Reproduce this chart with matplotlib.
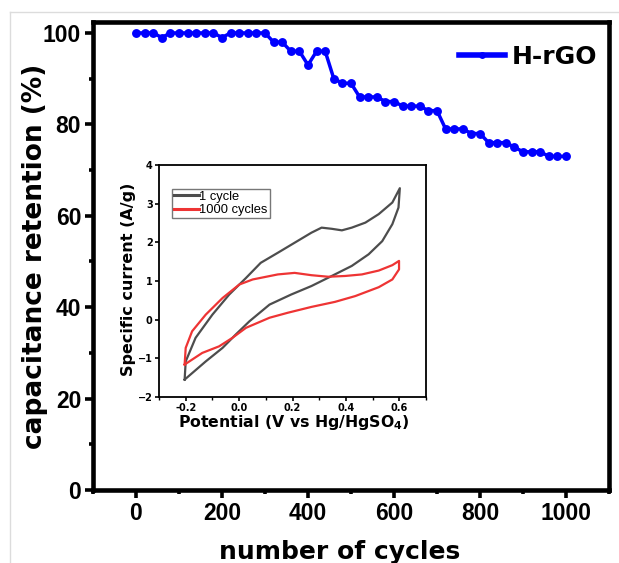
import matplotlib
matplotlib.use("Agg")
import matplotlib.pyplot as plt
from matplotlib.ticker import MultipleLocator
from matplotlib.lines import Line2D

# ---------------- data ----------------
cycles = [0, 20, 40, 60, 80, 100, 120, 140, 160, 180, 200, 220, 240, 260, 280, 300,
          320, 340, 360, 380, 400, 420, 440, 460, 480, 500, 520, 540, 560, 580, 600,
          620, 640, 660, 680, 700, 720, 740, 760, 780, 800, 820, 840, 860, 880, 900,
          920, 940, 960, 980, 1000]
retention = [100, 100, 100, 99, 100, 100, 100, 100, 100, 100, 99, 100, 100, 100, 100, 100,
             98, 98, 96, 96, 93, 96, 96, 90, 89, 89, 86, 86, 86, 85, 85,
             84, 84, 84, 83, 83, 79, 79, 79, 78, 78, 76, 76, 76, 75, 74,
             74, 74, 73, 73, 73]
series_label = "H-rGO"

cv1_potential = [-0.204, -0.200, -0.163, -0.100, -0.037, 0.026, 0.081, 0.145, 0.208, 0.271,
                 0.309, 0.347, 0.385, 0.422, 0.473, 0.523, 0.574, 0.602,
                 0.597, 0.574, 0.536, 0.485, 0.422, 0.347, 0.271, 0.195, 0.114, 0.039,
                 -0.012, -0.062, -0.125, -0.204]
cv1_current = [-1.55, -1.08, -0.47, 0.13, 0.65, 1.08, 1.47, 1.73, 1.99, 2.25,
               2.38, 2.35, 2.31, 2.38, 2.51, 2.73, 3.03, 3.40,
               2.90, 2.47, 2.03, 1.69, 1.39, 1.13, 0.87, 0.65, 0.39, -0.04,
               -0.38, -0.73, -1.08, -1.55]
cv1000_potential = [-0.204, -0.200, -0.176, -0.125, -0.062, 0.001, 0.051, 0.145, 0.208, 0.271,
                    0.334, 0.397, 0.460, 0.523, 0.574, 0.599,
                    0.599, 0.574, 0.523, 0.435, 0.359, 0.271, 0.183, 0.114, 0.026,
                    -0.025, -0.075, -0.138, -0.204]
cv1000_current = [-1.16, -0.73, -0.30, 0.13, 0.56, 0.91, 1.04, 1.17, 1.21, 1.15,
                  1.11, 1.13, 1.17, 1.27, 1.41, 1.52,
                  1.30, 1.04, 0.84, 0.61, 0.46, 0.33, 0.18, 0.05, -0.21,
                  -0.47, -0.69, -0.86, -1.16]
cv_labels = ["1 cycle", "1000 cycles"]

# ---------------- figure ----------------
W, H = 619, 563
fig = plt.figure(figsize=(W / 100, H / 100), dpi=100)
fig.patch.set_facecolor("white")

# faint frame of the original screenshot
fig.add_artist(Line2D([10 / W, 10 / W], [0, 1 - 12 / H], transform=fig.transFigure,
                      color="#dcdcdc", lw=1))
fig.add_artist(Line2D([10 / W, 1], [1 - 12 / H, 1 - 12 / H], transform=fig.transFigure,
                      color="#dcdcdc", lw=1))

ax_w, ax_h = 609 - 93, 490 - 22
ax = fig.add_axes([93 / W, 1 - 490 / H, ax_w / W, ax_h / H])
ax.plot(cycles, retention, color="#0000ff", lw=2.5, marker="o", ms=6.4,
        markeredgewidth=0, label=series_label)
ax.set_xlim(-100, 1100)
ax.set_ylim(0, 102.4)
ax.xaxis.set_major_locator(MultipleLocator(200))
ax.xaxis.set_minor_locator(MultipleLocator(100))
ax.yaxis.set_major_locator(MultipleLocator(20))
ax.yaxis.set_minor_locator(MultipleLocator(10))
for s in ax.spines.values():
    s.set_linewidth(3.3)
ax.tick_params(which="major", direction="out", length=5.5, width=2.6, pad=3)
ax.tick_params(which="minor", direction="out", length=3.0, width=2.6)
tick_font = dict(family="Liberation Sans", weight="bold", size=16.5)
for lab in ax.get_xticklabels() + ax.get_yticklabels():
    lab.set_fontproperties(matplotlib.font_manager.FontProperties(**tick_font))
ax.set_xlabel("number of cycles", fontsize=18, fontweight="bold",
              family="DejaVu Sans")
ax.xaxis.set_label_coords((340 - 93) / ax_w, (490 - 540) / ax_h)
ax.set_ylabel("capacitance retention (%)", fontsize=19, fontweight="bold",
              family="DejaVu Sans")
ax.yaxis.set_label_coords((48 - 93) / ax_w, (490 - 256) / ax_h)

leg = ax.legend(loc="center right", bbox_to_anchor=(597 / W, 1 - 57 / H),
                bbox_transform=fig.transFigure, frameon=False, borderpad=0,
                borderaxespad=0, handlelength=1.85, handletextpad=0.25,
                prop=dict(family="DejaVu Sans", weight="bold", size=18))
for h in leg.legend_handles:
    h.set_linewidth(4)
    h.set_markersize(5)

# ---------------- inset ----------------
in_w, in_h = 426 - 159, 397 - 165
ins = fig.add_axes([159 / W, 1 - 397 / H, in_w / W, in_h / H])
ins.plot(cv1_potential, cv1_current, color="#4d4d4d", lw=1.6, label=cv_labels[0],
         solid_joinstyle="round")
ins.plot(cv1000_potential, cv1000_current, color="#ee3434", lw=1.6, label=cv_labels[1],
         solid_joinstyle="round")
ins.set_xlim(-0.3, 0.7)
ins.set_ylim(-2, 4)
ins.xaxis.set_major_locator(MultipleLocator(0.2))
ins.xaxis.set_minor_locator(MultipleLocator(0.1))
ins.yaxis.set_major_locator(MultipleLocator(1))
for s in ins.spines.values():
    s.set_linewidth(1.3)
ins.tick_params(which="major", direction="out", length=3, width=1.2, pad=1.5)
ins.tick_params(which="minor", direction="out", length=2, width=1.0)
ins.set_xticks([-0.2, 0.0, 0.2, 0.4, 0.6])
ins.set_xticklabels(["-0.2", "0.0", "0.2", "0.4", "0.6"])
ins_tick_font = matplotlib.font_manager.FontProperties(family="DejaVu Sans",
                                                       weight="bold", size=7)
for lab in ins.get_xticklabels() + ins.get_yticklabels():
    lab.set_fontproperties(ins_tick_font)
ins.set_xlabel("Potential (V vs Hg/HgSO$_\\mathbf{4}$)", fontsize=11.3,
               fontweight="bold", family="DejaVu Sans")
ins.xaxis.set_label_coords((294 - 159) / in_w, (397 - 413) / in_h)
ins.set_ylabel("Specific current (A/g)", fontsize=11.5, fontweight="bold",
               family="DejaVu Sans")
ins.yaxis.set_label_coords((136 - 159) / in_w, (397 - 279) / in_h)
il = ins.legend(loc="upper left", bbox_to_anchor=(0.049, 0.897), borderaxespad=0,
                borderpad=0.15, handlelength=1.9, handletextpad=0.05,
                labelspacing=0.1, fancybox=False,
                prop=dict(family="Liberation Sans", size=9.3))
il.get_frame().set_edgecolor("#555555")
il.get_frame().set_linewidth(1.0)
for h in il.legend_handles:
    h.set_linewidth(2.2)

fig.savefig("out.png", dpi=100)
